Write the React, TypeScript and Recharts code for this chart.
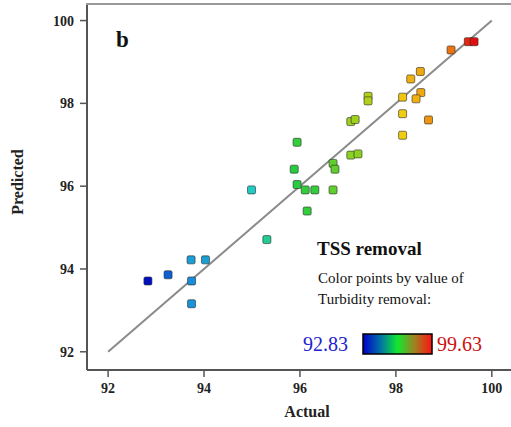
import React from 'react';
import { ScatterChart, Scatter, XAxis, YAxis, ReferenceLine } from 'recharts';

// actual vs predicted TSS removal, coloured by turbidity removal
const actual = [
  99.51, 99.63, 99.15, 98.51, 98.31, 98.52, 98.42, 98.14, 98.68, 98.14, 98.14,
  97.42, 97.42, 97.06, 97.15, 95.94, 95.88, 96.69, 96.73, 97.06, 97.21, 95.94,
  94.99, 96.11, 96.31, 96.69, 96.15, 95.31, 93.73, 94.03, 93.25, 92.83, 93.74, 93.74,
];
const predicted = [
  99.49, 99.49, 99.29, 98.77, 98.59, 98.26, 98.11, 98.15, 97.6, 97.75, 97.23,
  98.17, 98.06, 97.56, 97.61, 97.06, 96.41, 96.55, 96.41, 96.75, 96.78, 96.04,
  95.91, 95.91, 95.91, 95.91, 95.4, 94.71, 94.22, 94.22, 93.86, 93.71, 93.71, 93.16,
];
const turbidity = [
  99.5, 99.63, 99.1, 98.7, 98.6, 98.7, 98.6, 98.4, 98.9, 98.3, 98.3,
  97.6, 97.6, 97.4, 97.4, 96.4, 96.3, 96.8, 96.8, 97.2, 97.2, 96.3,
  95.2, 96.4, 96.4, 96.8, 96.4, 95.6, 94.5, 94.5, 93.7, 92.83, 94.2, 94.3,
];
const xTicks = [92, 94, 96, 98, 100];
const yTicks = [92, 94, 96, 98, 100];
const minTurb = 92.83;
const maxTurb = 99.63;

const stops: [number, number[]][] = [
  [0, [0, 16, 192]],
  [0.2, [24, 140, 220]],
  [0.35, [32, 204, 196]],
  [0.5, [32, 204, 64]],
  [0.65, [144, 208, 32]],
  [0.8, [240, 208, 16]],
  [0.9, [240, 144, 16]],
  [1, [224, 16, 16]],
];

function colorFor(v: number) {
  const t = Math.max(0, Math.min(1, (v - minTurb) / (maxTurb - minTurb)));
  for (let i = 1; i < stops.length; i++) {
    if (t <= stops[i][0]) {
      const [t0, c0] = stops[i - 1];
      const [t1, c1] = stops[i];
      const f = (t - t0) / (t1 - t0);
      const c = c0.map((a, k) => Math.round(a + (c1[k] - a) * f));
      return `rgb(${c[0]},${c[1]},${c[2]})`;
    }
  }
  return 'rgb(224,16,16)';
}

const data = actual.map((a, i) => ({ actual: a, predicted: predicted[i], turb: turbidity[i] }));

const SquareDot = (props: any) => {
  const { cx, cy, payload } = props;
  if (cx == null || cy == null) return null;
  return (
    <rect x={cx - 4} y={cy - 4} width={8} height={8} rx={1.5}
      fill={colorFor(payload.turb)} stroke="rgba(40,40,40,0.6)" strokeWidth={1} />
  );
};

const serif = "'Liberation Serif', serif";
const tickStyle = { fill: '#222', fontFamily: serif, fontWeight: 'bold', fontSize: 14, style: { fontFamily: serif } };

export default function App() {
  return (
    <div style={{ position: 'absolute', left: 0, top: 0, width: 511, height: 427, background: '#fff', fontFamily: serif }}>
      <ScatterChart width={511} height={427} margin={{ top: 4, right: 0, bottom: 0, left: 0 }}>
        <XAxis type="number" dataKey="actual" domain={[91.56, 100.4]} ticks={xTicks}
          allowDataOverflow height={57} tickSize={7} tickMargin={6}
          axisLine={{ stroke: '#555', strokeWidth: 2 }} tickLine={{ stroke: '#555', strokeWidth: 1.5 }}
          tick={tickStyle} />
        <YAxis type="number" dataKey="predicted" domain={[91.56, 100.4]} ticks={yTicks}
          allowDataOverflow width={87} tickSize={7} tickMargin={6}
          axisLine={{ stroke: '#555', strokeWidth: 2 }} tickLine={{ stroke: '#555', strokeWidth: 1.5 }}
          tick={tickStyle} />
        <ReferenceLine segment={[{ x: 92, y: 92 }, { x: 100, y: 100 }]} stroke="#8a8a8a" strokeWidth={2} />
        <Scatter data={data} shape={<SquareDot />} isAnimationActive={false} />
      </ScatterChart>
      <svg width={511} height={427} style={{ position: 'absolute', left: 0, top: 0, pointerEvents: 'none', fontFamily: serif }}>
        <defs>
          <linearGradient id="turbGrad" x1="0" y1="0" x2="1" y2="0">
            <stop offset="0%" stopColor="#0000c8" />
            <stop offset="25%" stopColor="#0070a8" />
            <stop offset="50%" stopColor="#10e830" />
            <stop offset="75%" stopColor="#a08020" />
            <stop offset="100%" stopColor="#ff1010" />
          </linearGradient>
        </defs>
        <line x1={86} y1={4} x2={511} y2={4} stroke="#999" strokeWidth={2} />
        <text x={116} y={47} fontWeight="bold" fontSize={23} fill="#111">b</text>
        <text x={19} y={182} fontWeight="bold" fontSize={16} fill="#222"
          textAnchor="middle" transform="rotate(-90 19 182)" dominantBaseline="middle">Predicted</text>
        <text x={307} y={417} fontWeight="bold" fontSize={16} fill="#222" textAnchor="middle">Actual</text>
        <text x={317} y={255} fontWeight="bold" fontSize={19} fill="#111">TSS removal</text>
        <text x={318} y={283} fontSize={15} fill="#111">Color points by value of</text>
        <text x={318} y={304} fontSize={15} fill="#111">Turbidity removal:</text>
        <text x={303} y={351} fontSize={20} fill="#2222cc">{minTurb.toFixed(2)}</text>
        <rect x={363} y={334} width={69} height={20} fill="url(#turbGrad)" stroke="#000" strokeWidth={1.5} />
        <text x={437} y={351} fontSize={20} fill="#cc1111">{maxTurb.toFixed(2)}</text>
      </svg>
    </div>
  );
}
